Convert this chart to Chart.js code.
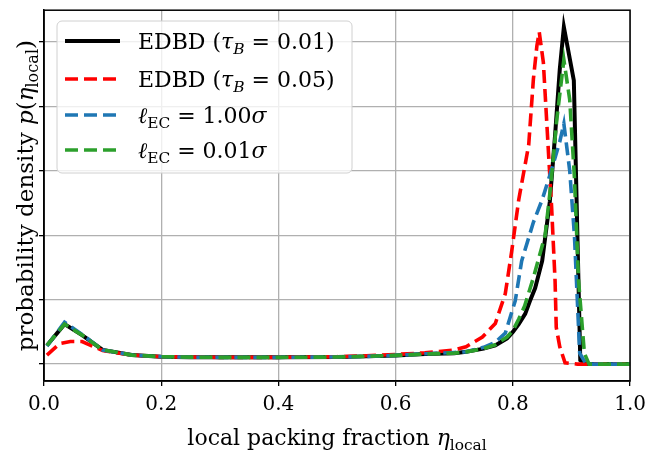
<!DOCTYPE html>
<html>
<head>
<meta charset="utf-8">
<script src="https://cdn.jsdelivr.net/npm/chart.js@4.4.1/dist/chart.umd.min.js"></script>
<style>
  html, body { margin: 0; padding: 0; background: #fff; }
  #wrap { width: 653px; height: 452px; position: relative; }
</style>
</head>
<body>
<div id="wrap"><canvas id="c" width="653" height="452"></canvas></div>
<script>
// ── Data ──────────────────────────────────────────────────
const xTicks = [0.0, 0.2, 0.4, 0.6, 0.8, 1.0];
const yTicks = [0, 1, 2, 3, 4, 5];

const tau001X = [0.005, 0.035, 0.065, 0.10, 0.15, 0.20, 0.25, 0.30, 0.40, 0.50, 0.55, 0.60, 0.65, 0.70, 0.72, 0.75, 0.77, 0.79, 0.80, 0.81, 0.821, 0.83, 0.838, 0.85, 0.863, 0.872, 0.880, 0.887, 0.904, 0.915, 0.925, 0.95, 1.0];
const tau001Y = [0.29, 0.62, 0.45, 0.22, 0.14, 0.115, 0.108, 0.105, 0.105, 0.11, 0.12, 0.135, 0.155, 0.17, 0.19, 0.24, 0.29, 0.40, 0.50, 0.62, 0.78, 1.00, 1.18, 1.60, 2.52, 3.55, 4.57, 5.23, 4.40, 0.06, 0.0, 0.0, 0.0];

const tau005X = [0.005, 0.027, 0.045, 0.065, 0.10, 0.15, 0.20, 0.25, 0.30, 0.40, 0.50, 0.55, 0.60, 0.65, 0.70, 0.72, 0.748, 0.770, 0.787, 0.798, 0.810, 0.827, 0.835, 0.841, 0.845, 0.852, 0.860, 0.866, 0.872, 0.874, 0.880, 0.889, 0.91, 0.95, 1.0];
const tau005Y = [0.14, 0.32, 0.35, 0.35, 0.21, 0.14, 0.115, 0.108, 0.105, 0.105, 0.115, 0.13, 0.15, 0.175, 0.22, 0.27, 0.42, 0.63, 1.09, 1.75, 2.55, 3.40, 4.42, 4.94, 5.15, 4.68, 3.40, 2.45, 1.29, 0.57, 0.27, 0.02, 0.0, 0.0, 0.0];

const ec100X = [0.005, 0.035, 0.065, 0.10, 0.15, 0.20, 0.25, 0.30, 0.40, 0.50, 0.55, 0.60, 0.65, 0.70, 0.72, 0.75, 0.770, 0.787, 0.804, 0.815, 0.835, 0.850, 0.862, 0.872, 0.880, 0.887, 0.897, 0.905, 0.914, 0.925, 0.95, 1.0];
const ec100Y = [0.28, 0.65, 0.46, 0.22, 0.14, 0.115, 0.108, 0.105, 0.105, 0.11, 0.12, 0.135, 0.16, 0.18, 0.19, 0.26, 0.34, 0.48, 0.98, 1.60, 2.20, 2.55, 2.90, 3.20, 3.45, 3.73, 3.00, 2.00, 0.17, 0.0, 0.0, 0.0];

const ec001X = [0.005, 0.035, 0.065, 0.10, 0.15, 0.20, 0.25, 0.30, 0.40, 0.50, 0.55, 0.60, 0.65, 0.70, 0.72, 0.75, 0.77, 0.79, 0.80, 0.81, 0.82, 0.835, 0.855, 0.865, 0.875, 0.887, 0.897, 0.905, 0.912, 0.922, 0.93, 0.95, 1.0];
const ec001Y = [0.29, 0.62, 0.45, 0.22, 0.14, 0.115, 0.108, 0.105, 0.105, 0.11, 0.12, 0.135, 0.155, 0.17, 0.19, 0.24, 0.30, 0.42, 0.52, 0.70, 0.90, 1.34, 2.00, 2.80, 3.80, 4.72, 4.10, 2.90, 1.30, 0.17, 0.0, 0.0, 0.0];

const seriesLabels = [
    [{ t: 'EDBD (' }, { t: 'τ', i: true }, { t: 'B', i: true, sub: true }, { t: ' = 0.01)' }],
    [{ t: 'EDBD (' }, { t: 'τ', i: true }, { t: 'B', i: true, sub: true }, { t: ' = 0.05)' }],
    [{ t: 'ℓ', i: true }, { t: 'EC', sub: true }, { t: ' = 1.00' }, { t: 'σ', i: true }],
    [{ t: 'ℓ', i: true }, { t: 'EC', sub: true }, { t: ' = 0.01' }, { t: 'σ', i: true }]
];
const xTitle = [{ t: 'local packing fraction ' }, { t: 'η', i: true }, { t: 'local', sub: true }];
const yTitle = [{ t: 'probability density ' }, { t: 'p', i: true }, { t: '(' }, { t: 'η', i: true }, { t: 'local', sub: true }, { t: ')' }];

const colors = ['#000000', '#ff0000', '#1f77b4', '#2ca02c'];
const dashes = [[], [13, 6], [13, 6], [13, 6]];
const widths = [4, 3.6, 3.6, 3.6];

// ── Helpers ────────────────────────────────────────────────
const FONT = "'DejaVu Serif', serif";

function pts(xs, ys) {
    return xs.map((x, k) => ({ x: x, y: ys[k] }));
}

function richWidth(ctx, segs, size) {
    let w = 0;
    segs.forEach(s => {
        const fs = s.sub ? size * 0.7 : size;
        ctx.font = (s.i ? 'italic ' : '') + fs + 'px ' + FONT;
        w += ctx.measureText(s.t).width;
    });
    return w;
}

function drawRich(ctx, segs, x, y, size) {
    ctx.textBaseline = 'alphabetic';
    ctx.textAlign = 'left';
    segs.forEach(s => {
        const fs = s.sub ? size * 0.7 : size;
        ctx.font = (s.i ? 'italic ' : '') + fs + 'px ' + FONT;
        ctx.fillText(s.t, x, y + (s.sub ? size * 0.22 : 0));
        x += ctx.measureText(s.t).width;
    });
}

// ── Frame, titles and legend ───────────────────────────────
const decorPlugin = {
    id: 'decor',
    afterDraw(chart) {
        const ctx = chart.ctx;
        const a = chart.chartArea;
        ctx.save();

        // spines
        ctx.strokeStyle = '#000';
        ctx.lineWidth = 1.5;
        ctx.strokeRect(a.left, a.top, a.right - a.left, a.bottom - a.top);

        // axis titles
        ctx.fillStyle = '#000';
        const xs = 22;
        const xw = richWidth(ctx, xTitle, xs);
        drawRich(ctx, xTitle, (a.left + a.right) / 2 - xw / 2, 445, xs);

        ctx.save();
        ctx.translate(33, (a.top + a.bottom) / 2);
        ctx.rotate(-Math.PI / 2);
        const ys = 23;
        const yw = richWidth(ctx, yTitle, ys);
        drawRich(ctx, yTitle, -yw / 2, 0, ys);
        ctx.restore();

        // legend
        const lx = 57, ly = 21, lw = 295, lh = 152, r = 5;
        ctx.beginPath();
        ctx.roundRect(lx, ly, lw, lh, r);
        ctx.fillStyle = 'rgba(255,255,255,0.8)';
        ctx.fill();
        ctx.strokeStyle = '#d0d0d0';
        ctx.lineWidth = 1;
        ctx.stroke();

        const rows = [41, 79, 115, 150];
        seriesLabels.forEach((segs, k) => {
            ctx.beginPath();
            ctx.setLineDash(dashes[k]);
            ctx.strokeStyle = colors[k];
            ctx.lineWidth = widths[k];
            ctx.moveTo(65, rows[k]);
            ctx.lineTo(120, rows[k]);
            ctx.stroke();
            ctx.setLineDash([]);
            ctx.fillStyle = '#000';
            drawRich(ctx, segs, 138, rows[k] + 8, 22);
        });

        ctx.restore();
    }
};

// ── Chart ──────────────────────────────────────────────────
const allX = [tau001X, tau005X, ec100X, ec001X];
const allY = [tau001Y, tau005Y, ec100Y, ec001Y];

new Chart(document.getElementById('c').getContext('2d'), {
    type: 'line',
    data: {
        datasets: allX.map((xs, k) => ({
            data: pts(xs, allY[k]),
            borderColor: colors[k],
            borderDash: dashes[k],
            borderWidth: widths[k],
            pointRadius: 0,
            tension: 0,
            fill: false,
            order: 4 - k
        }))
    },
    options: {
        responsive: false,
        animation: false,
        events: [],
        layout: { padding: { top: 7, right: 17, left: 0, bottom: 0 } },
        plugins: { legend: { display: false }, tooltip: { enabled: false } },
        scales: {
            x: {
                type: 'linear',
                min: 0, max: 1,
                afterBuildTicks: s => { s.ticks = xTicks.map(v => ({ value: v })); },
                afterFit: s => { s.height = 71; },
                border: { display: true, color: '#000', width: 1.5 },
                grid: { color: '#b0b0b0', lineWidth: 1.3, tickColor: '#000', tickLength: 5, drawTicks: true },
                ticks: {
                    color: '#000',
                    padding: 7,
                    maxRotation: 0,
                    font: { family: FONT, size: 20 },
                    callback: v => Number(v).toFixed(1)
                }
            },
            y: {
                type: 'linear',
                min: -0.262, max: 5.49,
                afterBuildTicks: s => { s.ticks = yTicks.map(v => ({ value: v })); },
                afterFit: s => { s.width = 44; },
                border: { display: true, color: '#000', width: 1.5 },
                grid: { color: '#b0b0b0', lineWidth: 1.3, tickColor: '#000', tickLength: 5, drawTicks: true },
                ticks: { display: true, callback: () => '' }
            }
        }
    },
    plugins: [decorPlugin]
});
</script>
</body>
</html>
